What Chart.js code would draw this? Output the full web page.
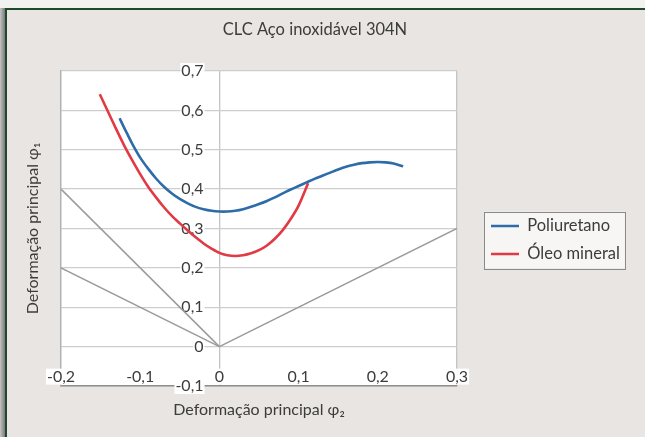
<!DOCTYPE html>
<html>
<head>
<meta charset="utf-8">
<script src="https://cdn.jsdelivr.net/npm/chart.js@4.4.0/dist/chart.umd.min.js"></script>
<style>
html,body{margin:0;padding:0;width:645px;height:437px;overflow:hidden;background:#f2f2f0;}
#shadow{position:absolute;left:0;top:8px;width:5px;height:429px;background:linear-gradient(90deg,#c4c4c4,#7a7a7a);}
#panel{position:absolute;left:5px;top:8px;width:640px;height:429px;box-sizing:border-box;border-left:2px solid #1d4a2b;border-top:2px solid #1d4a2b;background:#e8e5e2;}
canvas{position:absolute;left:0;top:0;}
</style>
</head>
<body>
<div id="shadow"></div>
<div id="panel"></div>
<canvas id="c" width="645" height="437"></canvas>
<script>
// ---- data ----
const chartTitle = 'CLC Aço inoxidável 304N';
const xTitle = 'Deformação principal φ₂';
const yTitle = 'Deformação principal φ₁';
const seriesNames = ['Poliuretano', 'Óleo mineral'];

const xTickLabels = ['-0,2', '-0,1', '0', '0,1', '0,2', '0,3'];
const yTickLabels = ['-0,1', '0', '0,1', '0,2', '0,3', '0,4', '0,5', '0,6', '0,7'];

const poliX = [-0.126, -0.12, -0.11, -0.10, -0.09, -0.08, -0.07, -0.06, -0.05, -0.04, -0.03, -0.02, -0.01, 0.00,
               0.01, 0.02, 0.03, 0.04, 0.05, 0.06, 0.07, 0.08, 0.09, 0.10, 0.11, 0.12, 0.13, 0.14, 0.15, 0.16,
               0.17, 0.18, 0.19, 0.20, 0.21, 0.22, 0.232];
const poliY = [0.580, 0.555, 0.515, 0.480, 0.452, 0.427, 0.406, 0.389, 0.375, 0.364, 0.355, 0.349, 0.345, 0.343,
               0.343, 0.345, 0.349, 0.355, 0.362, 0.370, 0.379, 0.389, 0.399, 0.408, 0.417, 0.426, 0.434, 0.442, 0.450, 0.457,
               0.462, 0.466, 0.468, 0.469, 0.468, 0.465, 0.458];

const oleoX = [-0.151, -0.14, -0.13, -0.12, -0.11, -0.10, -0.09, -0.08, -0.07, -0.06, -0.05, -0.04, -0.03, -0.02, -0.01,
               0.00, 0.01, 0.02, 0.03, 0.04, 0.05, 0.06, 0.07, 0.08, 0.09, 0.10, 0.112];
const oleoY = [0.641, 0.594, 0.551, 0.510, 0.473, 0.438, 0.406, 0.379, 0.354, 0.332, 0.313, 0.295, 0.278, 0.262, 0.249,
               0.238, 0.232, 0.230, 0.232, 0.237, 0.245, 0.257, 0.274, 0.296, 0.324, 0.358, 0.415];

// reference lines (strain paths)
const refLine1X = [-0.2, 0];   const refLine1Y = [0.4, 0];
const refLine2X = [-0.2, 0];   const refLine2Y = [0.2, 0];
const refLine3X = [0, 0.3];    const refLine3Y = [0, 0.3];

// ---- styling / layout ----
const FONT = "Lato, 'Open Sans', sans-serif";
const TXT = '#3c3c3c';
const LEG_SIZE = 16.5, LEG_PAD = 11.5, LEG_LINE = 28;
const CHART_RIGHT = 457, LEG_GAP = 22.5;

const mc = document.createElement('canvas').getContext('2d');
mc.font = LEG_SIZE + 'px ' + FONT;
const maxText = Math.max(...seriesNames.map(t => mc.measureText(t).width));
const legendW = LEG_PAD + LEG_LINE + LEG_SIZE / 2 + maxText + 10;
const padRight = 645 - CHART_RIGHT - LEG_GAP - legendW;

const pts = (xs, ys) => xs.map((x, i) => ({x: x, y: ys[i]}));
const near = (a, b) => Math.abs(a - b) < 1e-6;

const plotBg = {
  id: 'plotBg',
  beforeDraw(chart) {
    const {ctx, chartArea: a} = chart;
    ctx.save();
    ctx.fillStyle = '#ffffff';
    ctx.fillRect(a.left, a.top, a.right - a.left, a.bottom - a.top);
    const hb = chart.legend && chart.legend.legendHitBoxes;
    if (hb && hb.length) {
      const l = hb[0].left - 7;
      const t = hb[0].top - 6;
      const r = Math.max(...hb.map(h => h.left + h.width)) + 5;
      const b = hb[hb.length - 1].top + hb[hb.length - 1].height + 6;
      ctx.fillStyle = '#f7f6f4';
      ctx.fillRect(l, t, r - l, b - t);
      ctx.strokeStyle = '#8a8a8a';
      ctx.lineWidth = 1;
      ctx.strokeRect(Math.round(l) + 0.5, Math.round(t) + 0.5, Math.round(r - l), Math.round(b - t));
    }
    ctx.restore();
  }
};

const grayLine = (xs, ys) => ({
  label: '', data: pts(xs, ys), showLine: true, borderColor: '#9b9b9b', borderWidth: 1.5,
  pointRadius: 0, tension: 0, fill: false
});

new Chart(document.getElementById('c'), {
  type: 'scatter',
  data: {
    datasets: [
      { label: seriesNames[0], data: pts(poliX, poliY), showLine: true, borderColor: '#2d6ba9', backgroundColor: '#2d6ba9',
        borderWidth: 2.6, pointRadius: 0, tension: 0.3, fill: false },
      { label: seriesNames[1], data: pts(oleoX, oleoY), showLine: true, borderColor: '#e13a44', backgroundColor: '#e13a44',
        borderWidth: 2.6, pointRadius: 0, tension: 0.3, fill: false },
      grayLine(refLine1X, refLine1Y),
      grayLine(refLine2X, refLine2Y),
      grayLine(refLine3X, refLine3Y)
    ]
  },
  options: {
    responsive: false,
    animation: false,
    devicePixelRatio: 1,
    layout: { padding: { left: 0, right: padRight, top: 0, bottom: 0 } },
    font: { family: FONT },
    plugins: {
      tooltip: { enabled: false },
      title: { display: true, text: chartTitle, color: TXT, font: { family: FONT, size: 16.5, weight: 'normal' },
               padding: { top: 20.1, bottom: 31.1 } },
      legend: {
        position: 'right', fullSize: false, align: 'center', maxWidth: 400,
        title: { display: true, text: ' ', font: { family: FONT, size: LEG_SIZE }, padding: { top: 0, bottom: 3.2 } },
        labels: {
          usePointStyle: true, pointStyle: 'line', pointStyleWidth: LEG_LINE, padding: LEG_PAD,
          color: TXT, font: { family: FONT, size: LEG_SIZE },
          filter: item => item.text !== ''
        }
      }
    },
    scales: {
      x: {
        type: 'linear', position: 'bottom', min: -0.2, max: 0.3,
        ticks: { display: false, stepSize: 0.1 },
        grid: { drawTicks: false, lineWidth: 1.3,
                color: c => (near(c.tick.value, 0) || near(c.tick.value, -0.2) || near(c.tick.value, 0.3)) ? '#c4c4c4' : 'rgba(0,0,0,0)' },
        border: { display: true, color: '#8e8e8e', width: 1.5 },
        title: { display: true, text: xTitle, color: TXT, font: { family: FONT, size: 16 }, padding: { top: 14.4, bottom: 17.4 } }
      },
      y: {
        type: 'linear', position: 'left', min: -0.1, max: 0.7,
        ticks: { display: false, stepSize: 0.1 },
        grid: { drawTicks: false, lineWidth: 1.3, color: '#cdcdcd' },
        border: { display: true, color: '#b0b0b0', width: 1.3 },
        title: { display: true, text: yTitle, color: TXT, font: { family: FONT, size: 16 }, padding: { top: 23.4, bottom: 18.4 } }
      },
      y2: {
        type: 'linear', axis: 'y', position: { x: -0.02 }, min: -0.1, max: 0.7, z: 1,
        grid: { display: false, drawTicks: false }, border: { display: false },
        ticks: { stepSize: 0.1, callback: (v, i) => yTickLabels[i], color: TXT,
                 font: { family: FONT, size: 16, lineHeight: 1.0 },
                 showLabelBackdrop: true, backdropColor: '#ffffff', backdropPadding: { x: 1, y: 0 } }
      },
      x2: {
        type: 'linear', axis: 'x', position: { y: 0 }, min: -0.2, max: 0.3, z: 1,
        grid: { display: false, drawTicks: false }, border: { display: false },
        ticks: { stepSize: 0.1, padding: 22, maxRotation: 0, autoSkip: false,
                 callback: (v, i) => xTickLabels[i], color: TXT,
                 font: { family: FONT, size: 16, lineHeight: 1.0 },
                 showLabelBackdrop: true, backdropColor: '#ffffff', backdropPadding: { x: 1, y: 0 } }
      },
      yR: {
        type: 'linear', axis: 'y', position: 'right', display: true,
        grid: { display: false, drawTicks: false }, border: { display: false },
        ticks: { display: false },
        afterFit: s => { s.width = LEG_GAP; }
      }
    }
  },
  plugins: [plotBg]
});
</script>
</body>
</html>
